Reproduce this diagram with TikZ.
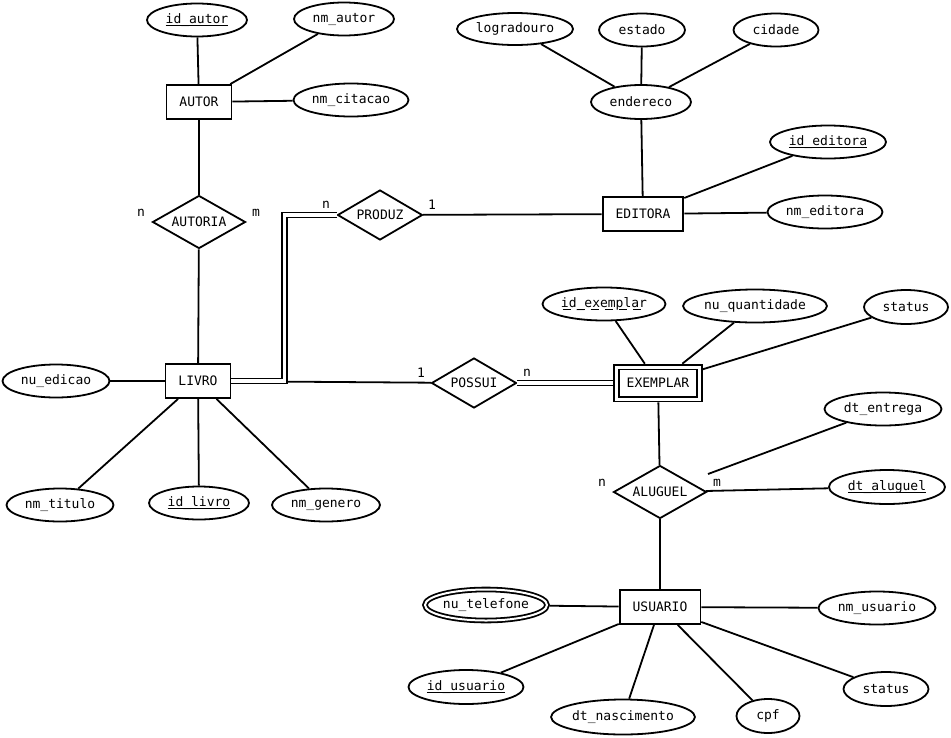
\documentclass[tikz,border=0pt]{standalone}
\usepackage{fontspec}
\setmainfont{DejaVu Sans Mono}
\usepackage{tikz}
\usepackage{xcolor}
\usetikzlibrary{shapes.geometric}
\definecolor{ink}{HTML}{000000}
\newcommand{\erfont}{\fontsize{13}{15}\selectfont}
\newcommand{\keyattr}[1]{\setbox0\hbox{#1}\rlap{\rule[-3pt]{\wd0}{1.8pt}}\box0}
\newcommand{\partkey}[1]{\setbox0\hbox{#1}%
  \rlap{\hbox to \wd0{\xleaders\hbox to 12.5pt{\rule[-3pt]{8pt}{1.8pt}\hfil}\hfill}}\box0}
\tikzset{
  entity/.style={draw=ink,fill=white,line width=1.8pt,rectangle,
                 minimum height=34pt,inner xsep=13pt,font=\erfont},
  weakentity/.style={entity,double,double distance=3pt,outer sep=3.3pt,
                     inner xsep=8pt},
  relation/.style={draw=ink,fill=white,line width=1.8pt,diamond,aspect=1.7,
                   inner sep=0pt,minimum width=85pt,minimum height=50pt,font=\erfont},
  attrib/.style={draw=ink,fill=white,line width=1.8pt,ellipse,inner sep=0pt,
                 minimum height=33pt,font=\erfont},
  multiattrib/.style={attrib,double,double distance=2pt,outer sep=2.8pt},
  card/.style={inner sep=0pt,font=\erfont},
  link/.style={draw=ink,line width=1.8pt},
  dbllink/.style={link,double,double distance=3.2pt}
}

\begin{document}
\begin{tikzpicture}[x=1pt,y=-1pt]
  \useasboundingbox (0,0) rectangle (951,737);
  % entidades
  \node[entity] (autor) at (199,102) {AUTOR};
  \node[entity] (livro) at (198,381) {LIVRO};
  \node[entity] (editora) at (643,214) {EDITORA};
  \node[weakentity,minimum width=83pt,minimum height=32pt] (exemplar) at (658,383) {EXEMPLAR};
  \node[entity] (usuario) at (660,607) {USUARIO};
  % relacionamentos
  \node[relation,minimum width=93pt,minimum height=53pt] (autoria) at (199,222) {AUTORIA};
  \node[relation] (produz) at (380,215) {PRODUZ};
  \node[relation] (possui) at (474,383) {POSSUI};
  \node[relation,minimum width=93pt,minimum height=53pt] (aluguel) at (660,492) {ALUGUEL};
  % atributos
  \node[attrib,minimum width=100pt] (idautor) at (197,20) {\keyattr{id\_autor}};
  \node[attrib,minimum width=100pt] (nmautor) at (344,19) {nm\_autor};
  \node[attrib,minimum width=115pt] (nmcitacao) at (351,100) {nm\_citacao};
  \node[attrib,minimum width=116pt,minimum height=32pt] (logradouro) at (515,29) {logradouro};
  \node[attrib,minimum width=86pt] (estado) at (642,30) {estado};
  \node[attrib,minimum width=85pt] (cidade) at (776,30) {cidade};
  \node[attrib,minimum width=100pt,minimum height=34pt] (endereco) at (641,102) {endereco};
  \node[attrib,minimum width=116pt] (ideditora) at (828,142) {\keyattr{id\_editora}};
  \node[attrib,minimum width=115pt] (nmeditora) at (825,212) {nm\_editora};
  \node[attrib,minimum width=107pt] (nuedicao) at (56,381) {nu\_edicao};
  \node[attrib,minimum width=107pt] (nmtitulo) at (60,505) {nm\_titulo};
  \node[attrib,minimum width=100pt] (idlivro) at (199,503) {\keyattr{id\_livro}};
  \node[attrib,minimum width=108pt] (nmgenero) at (326,505) {nm\_genero};
  \node[attrib,minimum width=123pt] (idexemplar) at (604,304) {\partkey{id\_exemplar}};
  \node[attrib,minimum width=140pt] (nuquantidade) at (755,306) {nu\_quantidade};
  \node[attrib,minimum width=84pt,minimum height=34pt] (statusex) at (906,307) {status};
  \node[attrib,minimum width=117pt] (dtentrega) at (883,409) {dt\_entrega};
  \node[attrib,minimum width=116pt,minimum height=34pt] (dtaluguel) at (887,487) {\keyattr{dt\_aluguel}};
  \node[multiattrib,minimum width=122pt,minimum height=31pt] (nutelefone) at (486,605) {nu\_telefone};
  \node[attrib,minimum width=117pt] (nmusuario) at (877,608) {nm\_usuario};
  \node[attrib,minimum width=115pt,minimum height=34pt] (idusuario) at (466,687) {\keyattr{id\_usuario}};
  \node[attrib,minimum width=138pt,minimum height=35pt] (dtnascimento) at (623,717) {dt\_nascimento};
  \node[attrib,minimum width=63pt,minimum height=34pt] (cpf) at (768,716) {cpf};
  \node[attrib,minimum width=85pt,minimum height=34pt] (statususu) at (886,689) {status};
  % cardinalidades
  \node[card] (autorian) at (141,213) {n};
  \node[card] (autoriam) at (256,213) {m};
  \node[card] (produzn) at (326,205) {n};
  \node[card] (produz1) at (432,205) {1};
  \node[card] (possui1) at (421,373) {1};
  \node[card] (possuin) at (527,373) {n};
  \node[card] (aluguelnn) at (602,483) {n};
  \node[card] (aluguelm) at (717,483) {m};
  \coordinate (pbend) at (284.5,215);
  \coordinate (aluguelne) at (708,474);
  % ligacoes
  \foreach \a in {idautor,nmautor,nmcitacao,autoria} \draw[link] (autor) -- (\a);
  \draw[link] (autoria) -- (livro);
  \foreach \a in {nuedicao,nmtitulo,idlivro,nmgenero,possui} \draw[link] (livro) -- (\a);
  \draw[dbllink] (livro.east) -| (pbend) -- (produz.west);
  \draw[link] (produz) -- (editora);
  \foreach \a in {endereco,ideditora,nmeditora} \draw[link] (editora) -- (\a);
  \foreach \a in {logradouro,estado,cidade} \draw[link] (endereco) -- (\a);
  \draw[dbllink] (possui) -- (exemplar);
  \foreach \a in {idexemplar,nuquantidade,statusex,aluguel} \draw[link] (exemplar) -- (\a);
  \draw[link] (aluguel) -- (dtaluguel);
  \draw[link] (dtentrega) -- (aluguelne);
  \draw[link] (aluguel) -- (usuario);
  \foreach \a in {nutelefone,nmusuario,idusuario,dtnascimento,cpf,statususu}
    \draw[link] (usuario) -- (\a);
\end{tikzpicture}
\end{document}
